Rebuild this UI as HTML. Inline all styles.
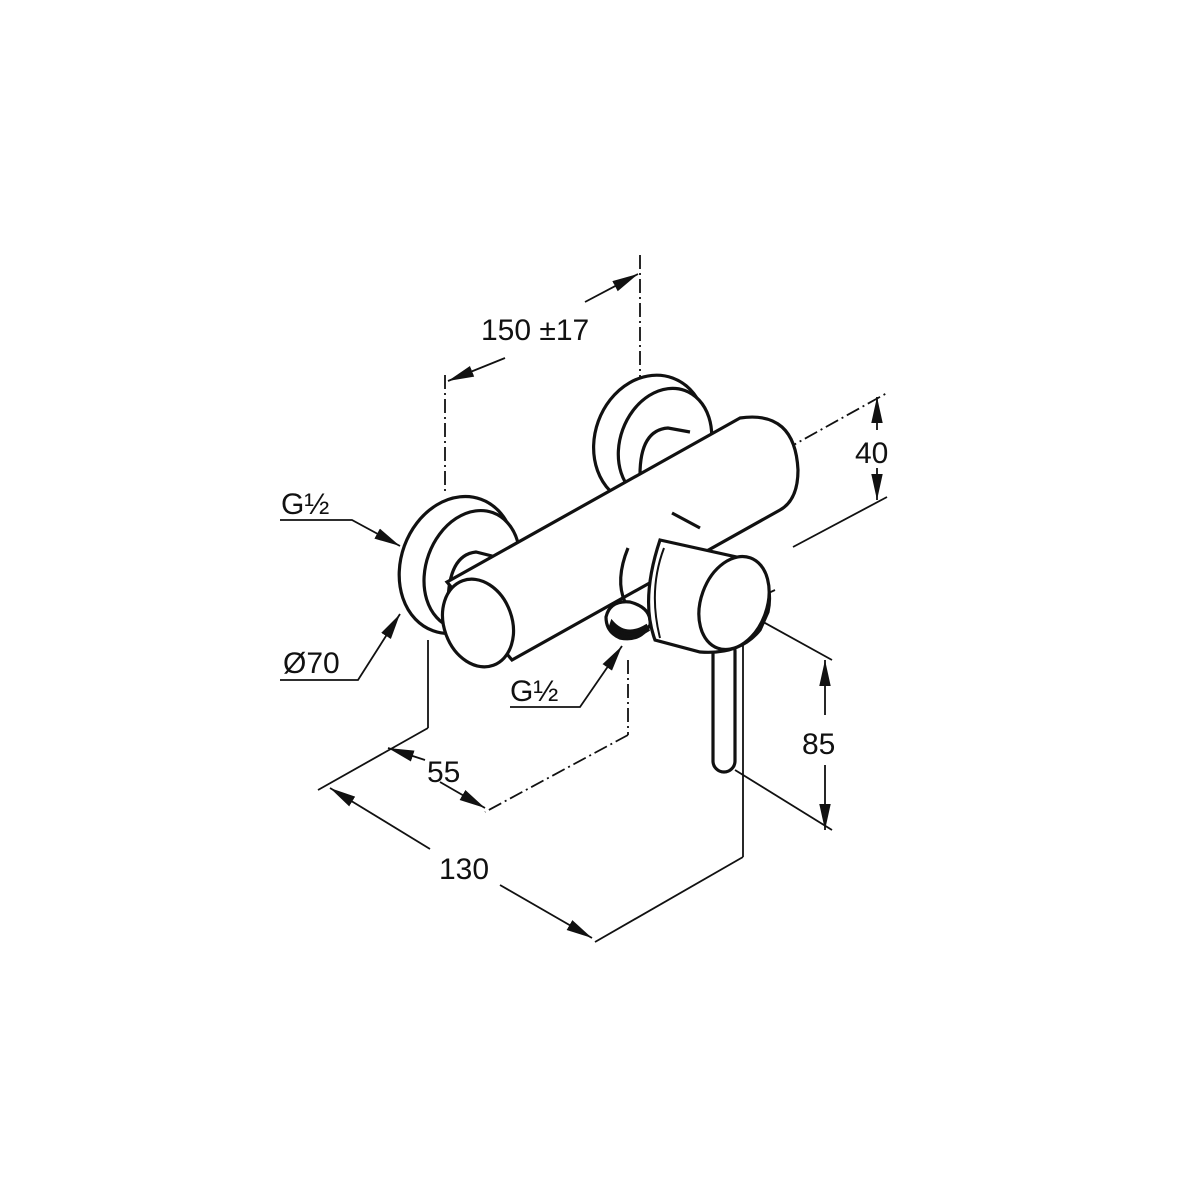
<!DOCTYPE html>
<html><head><meta charset="utf-8"><style>
html,body{margin:0;padding:0;background:#fff}
svg{display:block}
text{font-family:"Liberation Sans",sans-serif;fill:#111}
</style></head><body>
<svg width="1200" height="1200" viewBox="0 0 1200 1200">
<defs>
<marker id="a" viewBox="0 0 10 10" refX="10" refY="5" markerWidth="26" markerHeight="26" orient="auto-start-reverse" markerUnits="userSpaceOnUse"><path d="M0,2.8 L10,5 L0,7.2z" fill="#111"/></marker>
</defs>
<g fill="none" stroke="#111" stroke-width="1.8">
<g stroke-dasharray="14,4,2,4">
<line x1="445" y1="375" x2="445" y2="495"/>
<line x1="640" y1="255" x2="640" y2="382"/>
<line x1="700" y1="497" x2="887" y2="393"/>
<line x1="628" y1="660" x2="628" y2="735"/>
<line x1="628" y1="735" x2="485" y2="812"/>
<line x1="658" y1="566" x2="760" y2="625"/>
<line x1="700" y1="625" x2="775" y2="590"/>
</g>
<line x1="793" y1="547" x2="887" y2="497"/>
<line x1="756" y1="618" x2="832" y2="660"/>
<line x1="735" y1="770" x2="832" y2="830"/>
<line x1="428" y1="640" x2="428" y2="728"/>
<line x1="428" y1="728" x2="318" y2="790"/>
<line x1="743" y1="600" x2="743" y2="857"/>
<line x1="743" y1="857" x2="595" y2="942"/>
<line x1="505" y1="358" x2="448" y2="381" marker-end="url(#a)"/>
<line x1="585" y1="302" x2="638" y2="274" marker-end="url(#a)"/>
<line x1="877" y1="430" x2="877" y2="397" marker-end="url(#a)"/>
<line x1="877" y1="468" x2="877" y2="500" marker-end="url(#a)"/>
<line x1="825" y1="715" x2="825" y2="660" marker-end="url(#a)"/>
<line x1="825" y1="765" x2="825" y2="830" marker-end="url(#a)"/>
<line x1="425" y1="760" x2="388" y2="748" marker-end="url(#a)"/>
<line x1="440" y1="782" x2="485" y2="808" marker-end="url(#a)"/>
<line x1="430" y1="849" x2="330" y2="788" marker-end="url(#a)"/>
<line x1="500" y1="885" x2="592" y2="938" marker-end="url(#a)"/>
<polyline points="280,520 352,520 400,546" marker-end="url(#a)"/>
<polyline points="280,680 358,680 400,614" marker-end="url(#a)"/>
<polyline points="510,707 580,707 622,646" marker-end="url(#a)"/>
</g>
<g fill="#fff" stroke="#111" stroke-width="3.2">
<ellipse cx="650" cy="440" rx="55" ry="66" transform="rotate(20 650 440)"/>
<ellipse cx="665" cy="445" rx="45" ry="58" transform="rotate(20 665 445)"/>
<path d="M640,475 Q640,430 668,428 L690,432" />
<ellipse cx="457" cy="565" rx="56" ry="70" transform="rotate(20 457 565)"/>
<ellipse cx="472" cy="570" rx="46" ry="61" transform="rotate(20 472 570)"/>
<path d="M448,605 Q448,555 476,552 L500,558"/>
<path d="M447,582 L740,418 Q795,410 798,470 Q798,500 780,510 L512,660 Z"/>
<ellipse cx="478" cy="623" rx="34" ry="45" transform="rotate(-20 478 623)"/>
<path d="M606,617 Q610,600 630,602 Q652,608 650,625 Q640,642 620,638 Q606,632 606,617Z"/>
<path d="M610,628 Q625,645 648,630 L646,626 Q626,638 612,622Z" fill="#111"/>
<path d="M628,548 Q615,580 625,602" fill="none"/>
<rect x="713" y="640" width="22" height="132" rx="11"/>
<path d="M660,540 L750,560 Q775,580 768,612 L760,630 Q740,655 700,652 L655,640 Q640,600 660,540Z"/>
<path d="M664,548 Q648,590 660,638" fill="none" stroke-width="2"/>
<ellipse cx="734" cy="603" rx="33" ry="48" transform="rotate(20 734 603)"/>
<line x1="672" y1="513" x2="700" y2="528"/>
</g>
<g font-size="30">
<text x="481" y="340">150 ±17</text>
<text x="855" y="463">40</text>
<text x="802" y="754">85</text>
<text x="427" y="782">55</text>
<text x="439" y="879">130</text>
<text x="281" y="514">G½</text>
<text x="283" y="673">Ø70</text>
<text x="510" y="701">G½</text>
</g>
</svg>
</body></html>
